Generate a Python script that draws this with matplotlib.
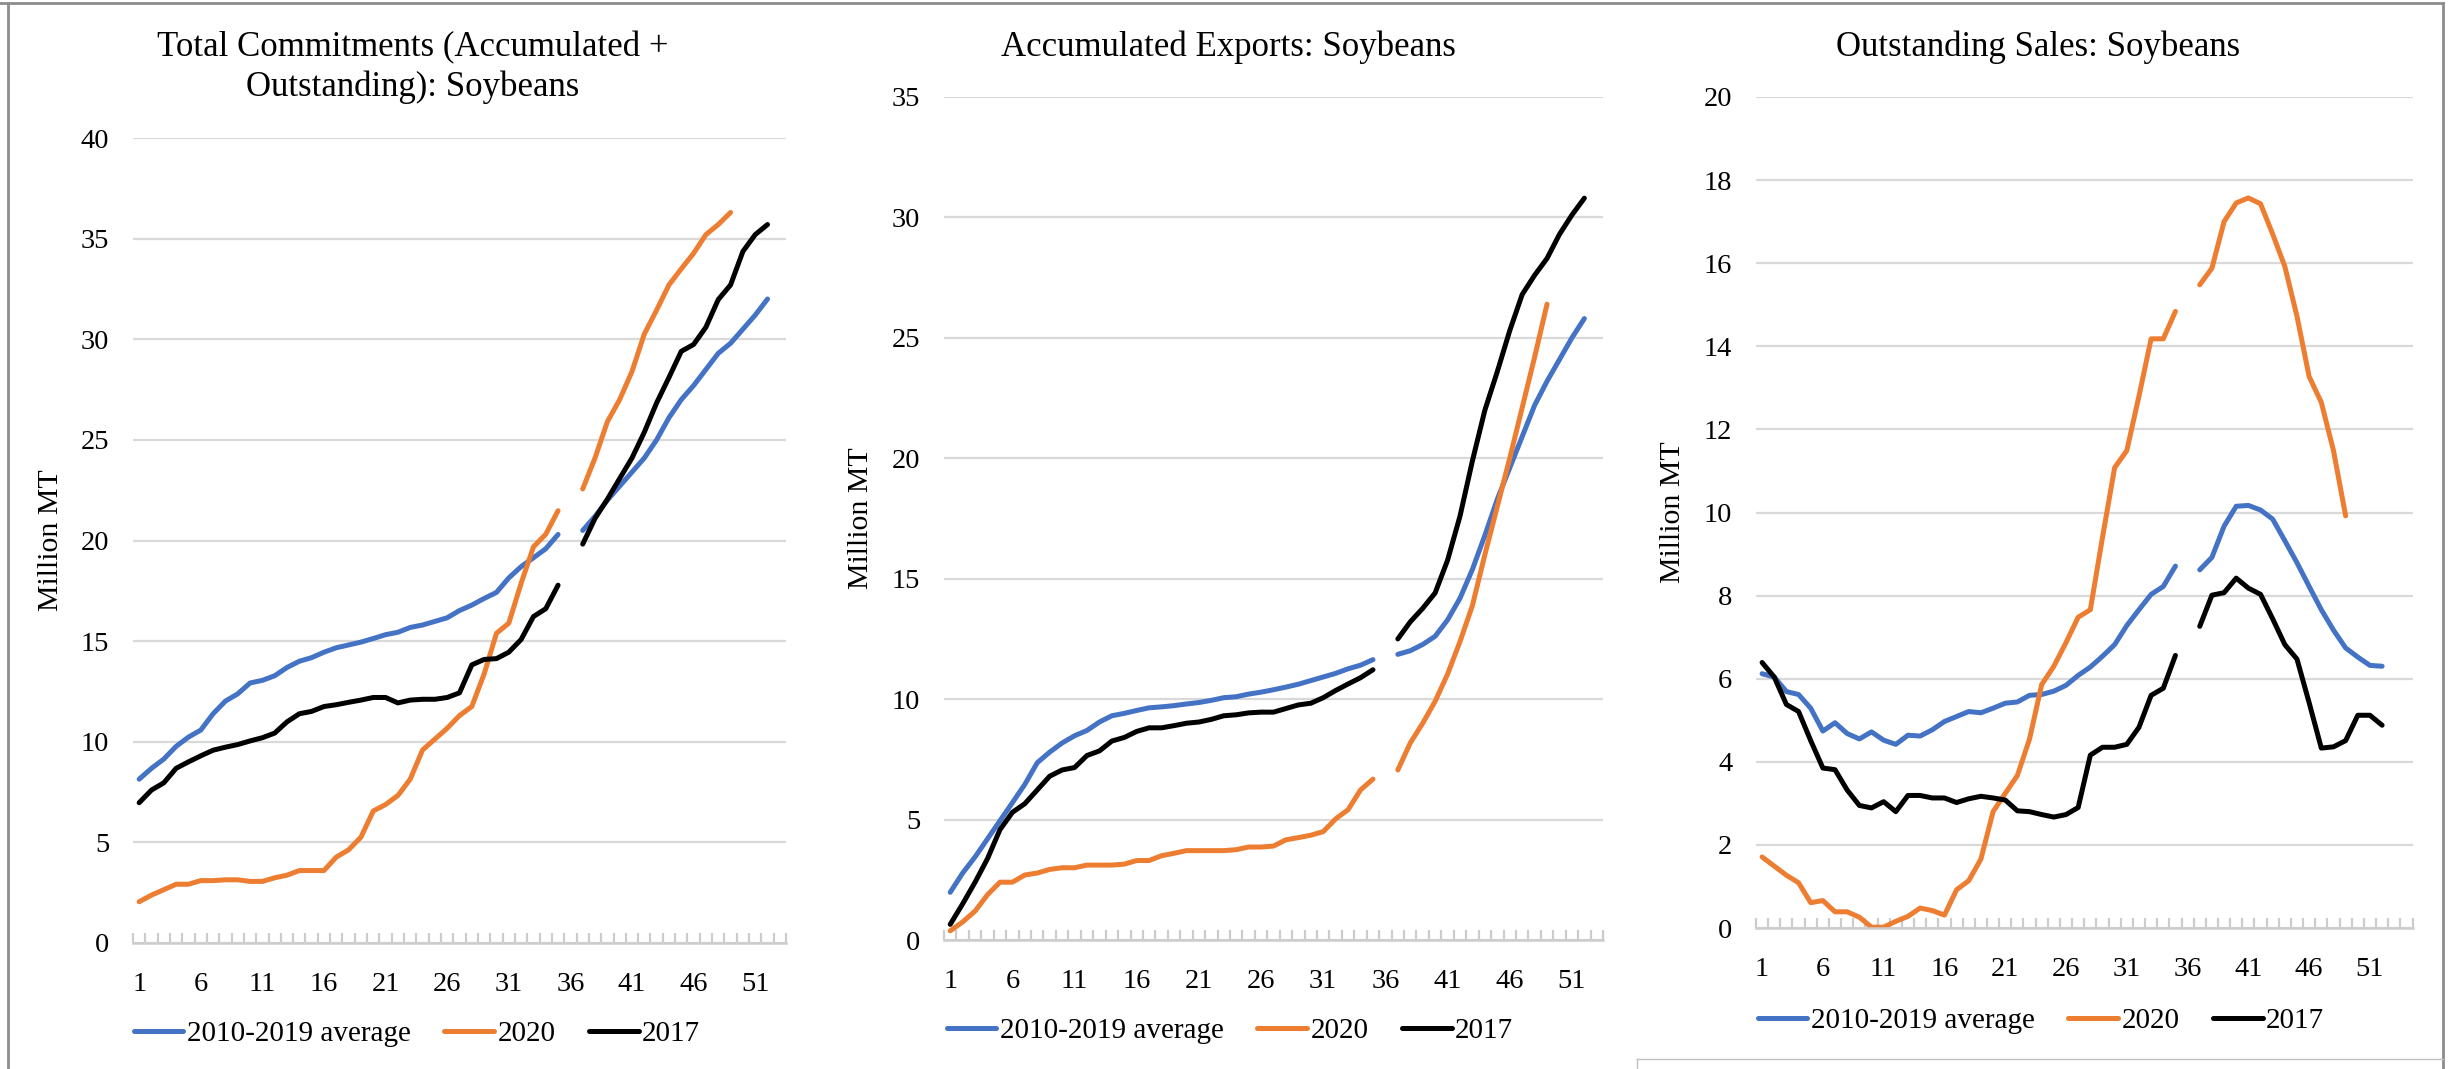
import numpy as np
import matplotlib.pyplot as plt
from matplotlib.lines import Line2D

nan = np.nan

# Marketing-year weeks (week 36 has no report, hence the gap)
weeks = np.arange(1, 53)

series_names = ["2010-2019 average", "2020", "2017"]
series_colors = ["#4472C4", "#ED7D31", "#000000"]

# Total commitments (accumulated + outstanding), million MT
total_avg = [8.14, 8.68, 9.14, 9.77, 10.23, 10.58, 11.39, 12.02, 12.38, 12.92, 13.05, 13.28, 13.69,
             14.0, 14.18, 14.45, 14.67, 14.81, 14.95, 15.13, 15.32, 15.44, 15.68, 15.8, 15.98, 16.16,
             16.52, 16.79, 17.12, 17.42, 18.14, 18.7, 19.14, 19.59, 20.3, nan, 20.5, 21.2, 22.0,
             22.7, 23.4, 24.1, 25.0, 26.1, 27.0, 27.7, 28.5, 29.3, 29.8, 30.5, 31.2, 32.0]
total_2020 = [2.05, 2.38, 2.65, 2.92, 2.92, 3.1, 3.1, 3.14, 3.14, 3.06, 3.06, 3.24, 3.37, 3.6, 3.6,
              3.6, 4.27, 4.63, 5.26, 6.56, 6.88, 7.33, 8.14, 9.59, 10.13, 10.67, 11.3, 11.75, 13.37,
              15.39, 15.89, 17.87, 19.68, 20.31, 21.48, nan, 22.56, 24.1, 25.9, 27.0, 28.4, 30.26,
              31.45, 32.7, 33.5, 34.27, 35.2, 35.7, 36.3]
total_2017 = [6.97, 7.6, 7.96, 8.68, 9.0, 9.3, 9.58, 9.73, 9.86, 10.04, 10.2, 10.43, 10.99, 11.39,
              11.51, 11.75, 11.84, 11.96, 12.07, 12.2, 12.2, 11.93, 12.07, 12.11, 12.11, 12.2, 12.43,
              13.82, 14.09, 14.13, 14.45, 15.08, 16.22, 16.61, 17.78, nan, 19.82, 21.1, 22.05, 23.08,
              24.1, 25.38, 26.84, 28.1, 29.4, 29.74, 30.6, 31.97, 32.7, 34.36, 35.2, 35.7]

# Accumulated exports, million MT
exp_avg = [1.98, 2.78, 3.45, 4.2, 4.95, 5.7, 6.46, 7.36, 7.8, 8.18, 8.48, 8.7, 9.05, 9.31, 9.41,
           9.53, 9.64, 9.68, 9.73, 9.8, 9.86, 9.95, 10.06, 10.1, 10.21, 10.29, 10.39, 10.5, 10.62,
           10.77, 10.92, 11.07, 11.26, 11.41, 11.64, nan, 11.86, 12.01, 12.27, 12.61, 13.29, 14.19,
           15.39, 16.8, 18.3, 19.6, 20.9, 22.2, 23.2, 24.1, 25.0, 25.8]
exp_2020 = [0.38, 0.75, 1.2, 1.88, 2.4, 2.4, 2.7, 2.78, 2.93, 3.0, 3.0, 3.11, 3.11, 3.11, 3.15, 3.3,
            3.3, 3.5, 3.6, 3.71, 3.71, 3.71, 3.71, 3.75, 3.86, 3.86, 3.9, 4.16, 4.25, 4.35, 4.5,
            5.03, 5.41, 6.23, 6.68, nan, 7.06, 8.18, 9.0, 9.91, 11.04, 12.39, 13.89, 16.0, 18.0,
            20.0, 22.1, 24.2, 26.4]
exp_2017 = [0.65, 1.5, 2.4, 3.38, 4.58, 5.3, 5.66, 6.23, 6.8, 7.06, 7.16, 7.66, 7.85, 8.26, 8.41,
            8.66, 8.81, 8.81, 8.9, 9.0, 9.05, 9.16, 9.31, 9.35, 9.43, 9.46, 9.46, 9.61, 9.76, 9.83,
            10.06, 10.36, 10.63, 10.89, 11.22, nan, 12.5, 13.21, 13.77, 14.41, 15.77, 17.6, 19.9,
            22.0, 23.6, 25.3, 26.8, 27.6, 28.3, 29.3, 30.1, 30.8]

# Outstanding sales, million MT
out_avg = [6.12, 6.04, 5.69, 5.62, 5.29, 4.74, 4.94, 4.68, 4.55, 4.72, 4.52, 4.42, 4.64, 4.62, 4.77,
           4.97, 5.09, 5.21, 5.18, 5.29, 5.41, 5.44, 5.6, 5.62, 5.7, 5.84, 6.08, 6.28, 6.54, 6.82,
           7.28, 7.66, 8.03, 8.22, 8.71, nan, 8.62, 8.92, 9.67, 10.15, 10.17, 10.06, 9.84, 9.32,
           8.79, 8.22, 7.66, 7.17, 6.74, 6.52, 6.32, 6.3]
out_2020 = [1.71, 1.49, 1.27, 1.09, 0.61, 0.66, 0.39, 0.39, 0.26, 0.02, 0.02, 0.16, 0.28, 0.48, 0.42,
            0.31, 0.92, 1.14, 1.66, 2.8, 3.24, 3.67, 4.55, 5.86, 6.3, 6.87, 7.48, 7.66, 9.4, 11.08,
            11.49, 12.8, 14.18, 14.18, 14.84, nan, 15.48, 15.88, 17.0, 17.45, 17.57, 17.43, 16.7,
            15.92, 14.72, 13.27, 12.65, 11.49, 9.92]
out_2017 = [6.39, 6.04, 5.38, 5.21, 4.51, 3.85, 3.81, 3.32, 2.95, 2.89, 3.04, 2.8, 3.19, 3.19, 3.13,
            3.13, 3.02, 3.11, 3.17, 3.13, 3.08, 2.82, 2.8, 2.73, 2.67, 2.73, 2.9, 4.16, 4.35, 4.35,
            4.42, 4.83, 5.6, 5.77, 6.56, nan, 7.26, 8.01, 8.07, 8.42, 8.18, 8.03, 7.44, 6.82, 6.47,
            5.42, 4.33, 4.36, 4.51, 5.12, 5.12, 4.88]

plt.rcParams['font.family'] = ['Liberation Serif', 'DejaVu Serif']

GRID = "#D9D9D9"
W, H = 2456, 1069


def draw_panel(fig, rect, series, ymax, ystep, ncat, title_lines, title_x, legend_xy):
    ax = fig.add_axes(rect)
    for vals, name, color in zip(series, series_names, series_colors):
        ax.plot(weeks[:len(vals)], vals, color=color, lw=3.6, label=name,
                solid_capstyle='round', solid_joinstyle='round')

    ax.set_xlim(0.5, ncat + 0.5)
    ax.set_ylim(0, ymax)
    ax.set_yticks(np.arange(0, ymax + 0.01, ystep))
    ax.yaxis.grid(True, color=GRID, lw=1.6)
    ax.set_axisbelow(True)

    ax.set_xticks(np.arange(1, 52, 5))
    ax.set_xticks(np.arange(0.5, ncat + 1, 1), minor=True)
    ax.tick_params(axis='x', which='major', length=0, pad=21, labelsize=20.5)
    ax.tick_params(axis='x', which='minor', direction='in', length=7, width=1.6, color="#CCCCCC")
    ax.tick_params(axis='y', length=0, pad=17, labelsize=20.5)

    for side in ['top', 'right', 'left']:
        ax.spines[side].set_visible(False)
    ax.spines['bottom'].set_color("#CCCCCC")
    ax.spines['bottom'].set_linewidth(1.8)

    ax.set_ylabel("Million MT", fontsize=21.5)
    ax.yaxis.set_label_coords(-0.106, 0.5)

    # chart title, one call per line
    baselines = [56.1, 96.4]
    for line, yb in zip(title_lines, baselines):
        fig.text(title_x, 1 - yb / H, line, ha='center', va='baseline', fontsize=25)

    ax.legend(loc='center', bbox_to_anchor=legend_xy, bbox_transform=fig.transFigure,
              ncol=3, frameon=False, fontsize=21, handlelength=1.7, handletextpad=0.12,
              columnspacing=1.15, borderpad=0)
    return ax


fig = plt.figure(figsize=(W / 100, H / 100), dpi=100)

draw_panel(fig, [133 / W, 1 - 943 / H, 653 / W, 805 / H],
           [total_avg, total_2020, total_2017], 40, 5, 53,
           ["Total Commitments (Accumulated +", "Outstanding): Soybeans"],
           413 / W, (417 / W, 1 - 1034 / H))

draw_panel(fig, [944 / W, 1 - 940 / H, 659 / W, 843 / H],
           [exp_avg, exp_2020, exp_2017], 35, 5, 53,
           ["Accumulated Exports: Soybeans"],
           1228 / W, (1230 / W, 1 - 1031 / H))

draw_panel(fig, [1756 / W, 1 - 928 / H, 656.5 / W, 831 / H],
           [out_avg, out_2020, out_2017], 20, 2, 54,
           ["Outstanding Sales: Soybeans"],
           2038 / W, (2041 / W, 1 - 1021 / H))

# frame around the three charts
border = "#8C8C8C"
top_y = 1 - 3.4 / H
fig.add_artist(Line2D([0, 2443 / W], [top_y, top_y], color=border, lw=2))
fig.add_artist(Line2D([8.3 / W, 8.3 / W], [0, top_y], color=border, lw=2))
fig.add_artist(Line2D([2443 / W, 2443 / W], [0, top_y], color=border, lw=2))
box_y = 1 - 1059 / H
fig.add_artist(Line2D([1637 / W, 2443 / W], [box_y, box_y], color="#BFBFBF", lw=1))
fig.add_artist(Line2D([1637 / W, 1637 / W], [0, box_y], color="#BFBFBF", lw=1))

fig.savefig("out.png", dpi=100)
